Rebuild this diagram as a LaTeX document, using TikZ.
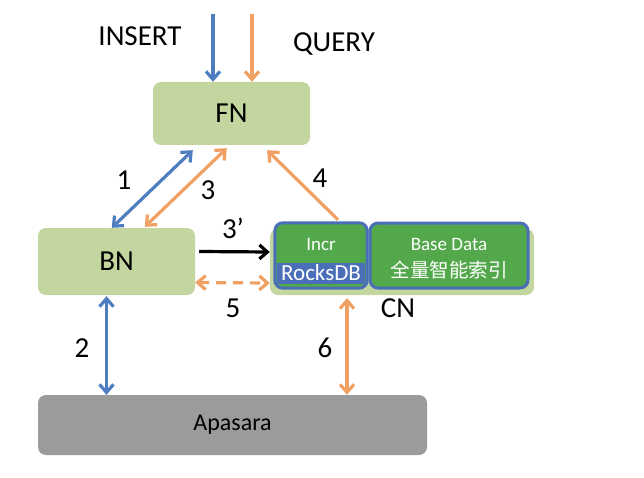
\documentclass[tikz,border=0pt]{standalone}
\usepackage{fontspec}
\setmainfont{Carlito}
\newfontfamily\cjk{Noto Sans CJK SC}
\usetikzlibrary{arrows.meta}

\definecolor{boxgreen}{HTML}{C4D69F}
\definecolor{cngreen}{HTML}{52A84A}
\definecolor{cnblue}{HTML}{4A6FB8}
\definecolor{arrblue}{HTML}{4F7EC0}
\definecolor{arrorange}{HTML}{F0A062}
\definecolor{basegray}{HTML}{9B9B9B}

\begin{document}
\begin{tikzpicture}[x=1pt, y=-1pt,
  node/.style={rounded corners=8pt, inner sep=0pt},
  lbl/.style={font=\fontsize{29}{31}\selectfont},
  flow/.style={line width=3.2pt, {Straight Barb[length=8pt,width=14pt]}-{Straight Barb[length=8pt,width=14pt]}},
  oneway/.style={line width=3.2pt, -{Straight Barb[length=8pt,width=14pt]}}]
  \useasboundingbox (0,0) rectangle (644,478);

  % Boites
  \node[node, fill=boxgreen, minimum width=157pt, minimum height=63pt, lbl] (fn) at (231.5,113.5) {FN};
  \node[node, fill=boxgreen, minimum width=157pt, minimum height=67pt, lbl] (bn) at (116.5,261.5) {BN};
  \node[node, fill=boxgreen, minimum width=264pt, minimum height=66pt] (cn) at (402,262) {};
  \node[node, fill=basegray, minimum width=389pt, minimum height=60pt, font=\fontsize{24}{26}\selectfont] (apasara) at (232.5,425) {Apasara};

  % CN : Incr et Base Data
  \node[node, fill=cngreen, minimum width=92pt, minimum height=65pt] (incr) at (321,255.5) {};
  \node[fill=cnblue, minimum width=88pt, minimum height=21pt, inner sep=0pt, text=white,
        font=\fontsize{23}{25}\selectfont] (rocks) at (321,273) {RocksDB};
  \draw[cnblue, line width=3pt, rounded corners=8pt] (incr.north west) rectangle (incr.south east);
  \node[text=white, font=\fontsize{19}{21}\selectfont] (incrtxt) at (321,244) {Incr};
  \node[node, fill=cngreen, draw=cnblue, line width=3pt, minimum width=158pt, minimum height=65pt] (base) at (449,255.5) {};
  \node[text=white, font=\fontsize{19}{21}\selectfont] (basetxt) at (449,244) {Base Data};
  \node[text=white, font=\fontsize{19.5}{21}\selectfont\cjk] (basecjk) at (449,270) {全量智能索引};

  % Etiquettes
  \node[lbl] (insert) at (140,36) {INSERT};
  \node[lbl] (query) at (334,44) {QUERY};
  \node[lbl] (n1) at (124,180) {1};
  \node[lbl] (n3) at (208,190) {3};
  \node[lbl] (n4) at (320,178) {4};
  \node[lbl] (n3p) at (233,228) {3’};
  \node[lbl] (n5) at (233,308) {5};
  \node[lbl] (cnlbl) at (398,308) {CN};
  \node[lbl] (n2) at (82,348) {2};
  \node[lbl] (n6) at (325,348) {6};

  % Fleches
  \coordinate (instop) at (213,14);
  \coordinate (qtop) at (252,14);
  \draw[oneway, arrblue] (instop) -- (fn.north -| instop);
  \draw[oneway, arrorange] (qtop) -- (fn.north -| qtop);
  \draw[flow, arrblue] ([xshift=74pt]bn.north west) -- ([xshift=40pt,yshift=-5pt]fn.south west);
  \draw[flow, arrorange] ([xshift=107pt,yshift=1pt]bn.north west) -- ([xshift=74pt,yshift=-3pt]fn.south west);
  \draw[oneway, arrorange] ([xshift=17pt,yshift=3pt]incr.north) -- ([xshift=-43pt,yshift=-5pt]fn.south east);
  \draw[oneway, black] ([xshift=4pt,yshift=10pt]bn.east) -- ([yshift=10pt]cn.west);
  \draw[flow, arrorange, dash pattern=on 10pt off 7pt] ([yshift=-21pt]bn.east) -- ([yshift=-21pt]cn.west);
  \draw[flow, arrblue] ([xshift=-10pt,yshift=-1pt]bn.south) -- ([xshift=-10pt]bn.south |- apasara.north);
  \draw[flow, arrorange] ([xshift=-55pt,yshift=-3pt]cn.south) -- ([xshift=-55pt]cn.south |- apasara.north);
\end{tikzpicture}
\end{document}
